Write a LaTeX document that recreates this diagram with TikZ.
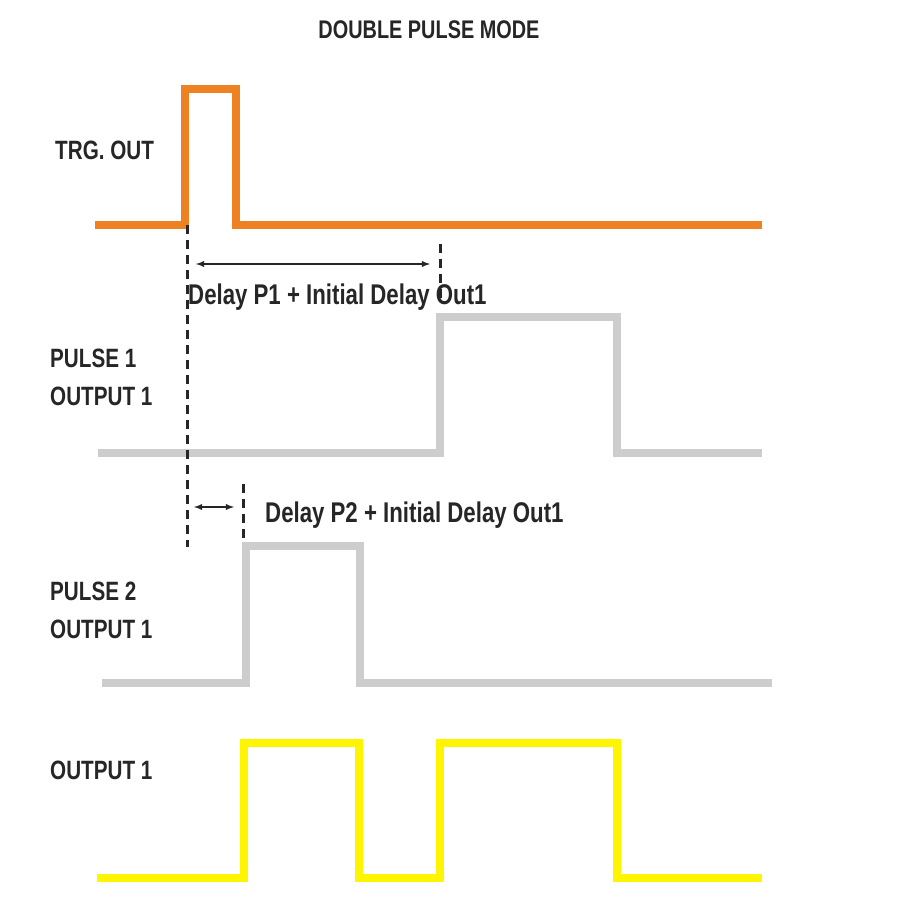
\documentclass[tikz,border=0pt]{standalone}
\usepackage{fontspec}
\setmainfont{Liberation Sans}[FakeStretch=0.78]
\begin{document}
\begin{tikzpicture}[x=1pt,y=-1pt,
  wave/.style={line width=8pt,line join=miter},
  lbl/.style={anchor=west,font=\bfseries\fontsize{26.5}{38}\selectfont,text=black!85,inner sep=0pt,align=left},
  dl/.style={anchor=west,font=\bfseries\fontsize{28.5}{30}\selectfont,text=black!85,inner sep=0pt},
  dashln/.style={line width=3pt,dash pattern=on 9pt off 6pt,black!85},
  arr/.style={line width=1.8pt,black!85,<->,>=latex}]
\useasboundingbox (0,0) rectangle (915,915);
\node[font=\bfseries\fontsize{25.5}{30}\selectfont,text=black!85,inner sep=0pt] (title) at (429,30) {DOUBLE PULSE MODE};
\node[lbl] (l1) at (55,150) {TRG. OUT};
\node[lbl] (l2) at (50,377) {PULSE 1\\OUTPUT 1};
\node[lbl] (l3) at (50,610) {PULSE 2\\OUTPUT 1};
\node[lbl] (l4) at (50,770) {OUTPUT 1};
\draw[wave,color={rgb,255:red,238;green,129;blue,33}] (95,225) -- (185,225) -- (185,89) -- (236,89) -- (236,225) -- (762,225);
\draw[wave,color={rgb,255:red,205;green,205;blue,205}] (98,453) -- (440,453) -- (440,317) -- (617,317) -- (617,453) -- (762,453);
\draw[wave,color={rgb,255:red,205;green,205;blue,205}] (102,683) -- (246,683) -- (246,546) -- (360,546) -- (360,683) -- (772,683);
\draw[wave,color={rgb,255:red,255;green,245;blue,0}] (97,878) -- (244,878) -- (244,743) -- (359,743) -- (359,878) -- (440,878) -- (440,743) -- (617,743) -- (617,878) -- (762,878);
\coordinate (d1a) at (187,225); \coordinate (d1b) at (187,547);
\coordinate (d2a) at (440,244); \coordinate (d2b) at (440,300);
\coordinate (d3a) at (243,484); \coordinate (d3b) at (243,540);
\draw[dashln] (d1a) -- (d1b);
\draw[dashln] (d2a) -- (d2b);
\draw[dashln] (d3a) -- (d3b);
\coordinate (a1) at (196,264); \coordinate (a2) at (430,264);
\coordinate (a3) at (194,507); \coordinate (a4) at (234,507);
\draw[arr] (a1) -- (a2);
\draw[arr] (a3) -- (a4);
\node[dl] (t1) at (188,297) {Delay P1 + Initial Delay Out1};
\node[dl] (t2) at (265,515) {Delay P2 + Initial Delay Out1};
\end{tikzpicture}
\end{document}
